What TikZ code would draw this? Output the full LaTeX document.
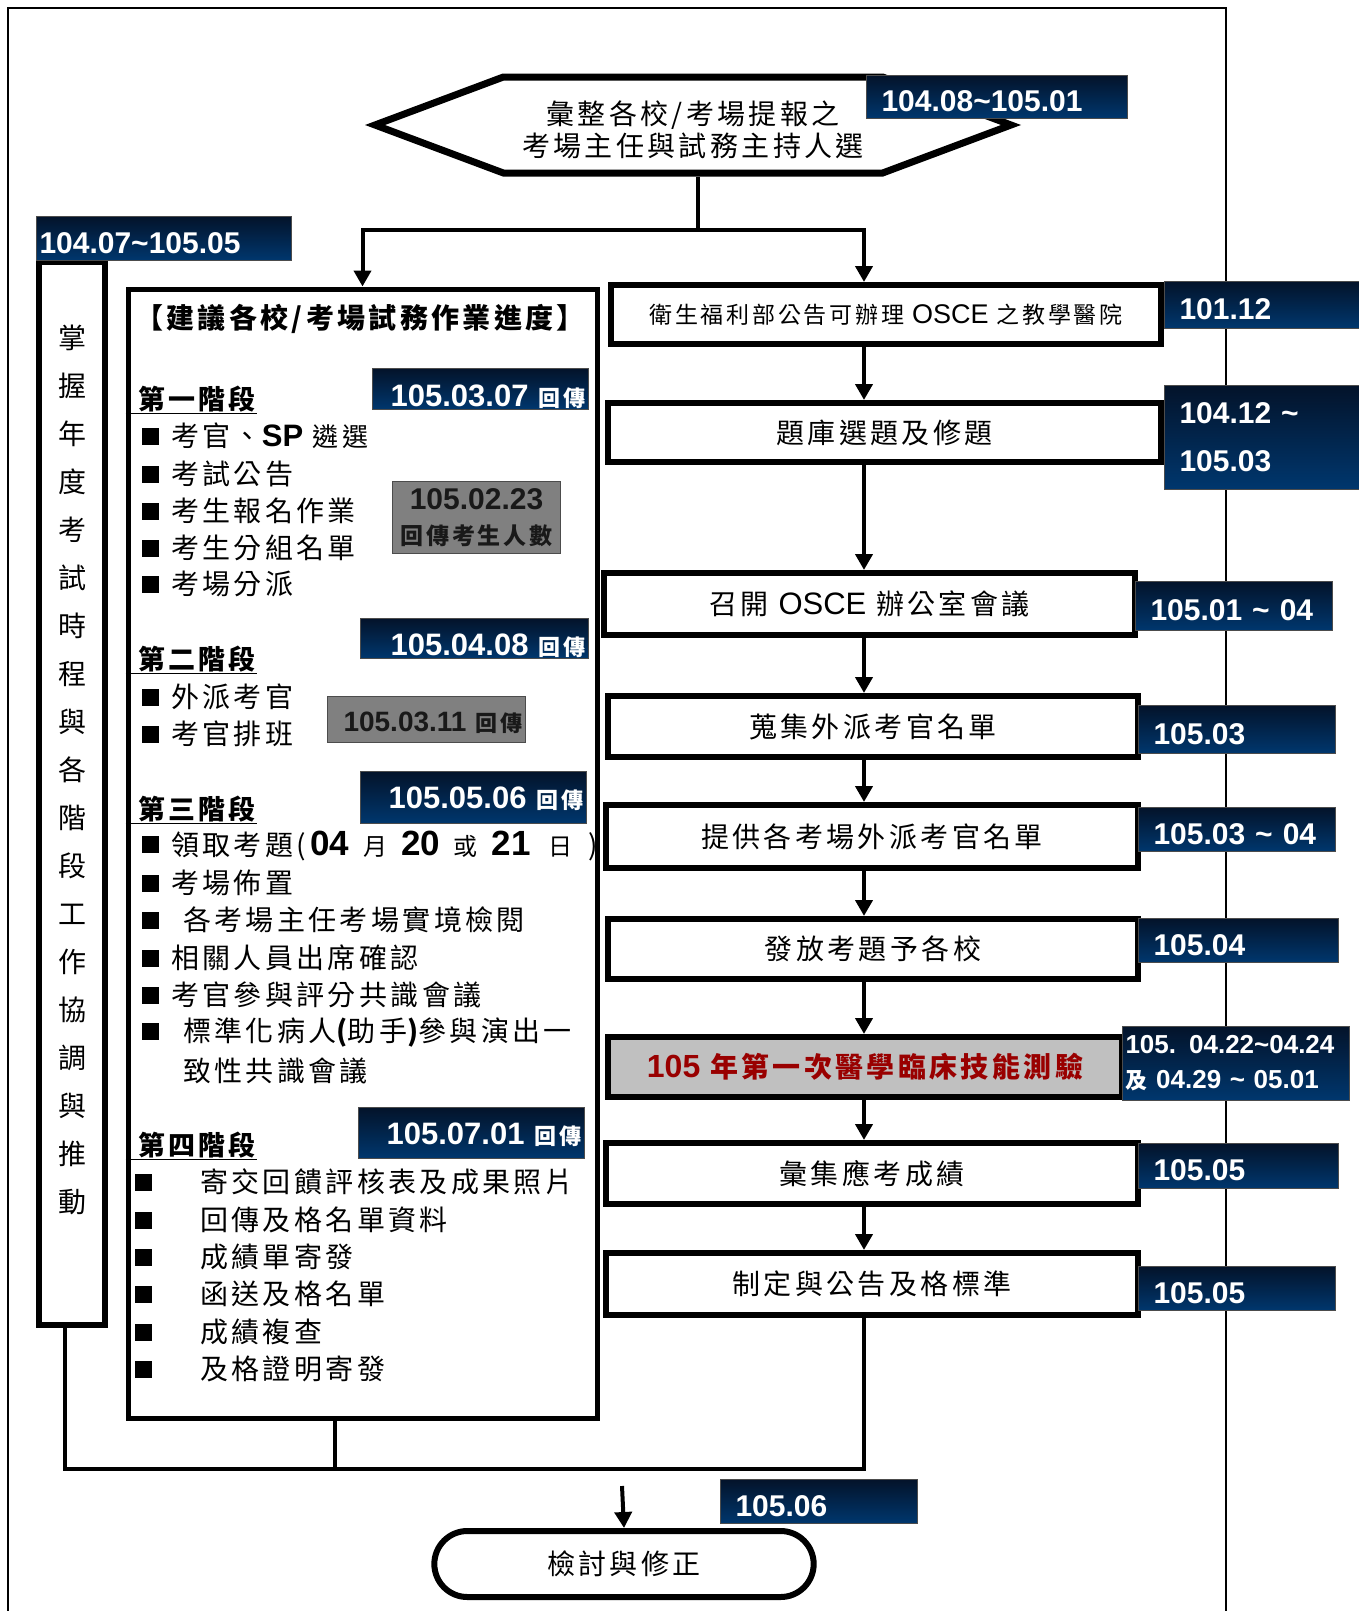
\documentclass[tikz,border=0pt]{standalone}
\usepackage{fontspec}
\setmainfont{Noto Sans CJK TC}[LetterSpace=12]
\newfontfamily\numfont{Liberation Sans}
\usepackage{xcolor}
\definecolor{navyTop}{HTML}{03132A}
\definecolor{navyBot}{HTML}{00376E}
\definecolor{boxGray}{HTML}{808080}
\definecolor{examGray}{HTML}{C0C0C0}
\definecolor{examRed}{HTML}{990000}
\usepackage{tikz}
\usetikzlibrary{arrows.meta, positioning, shapes.symbols, shapes.misc}
\newcommand{\fsz}[1]{\fontsize{#1}{#1}\selectfont}
\newcommand{\sq}{\raisebox{2pt}{\rule{17pt}{17pt}}}
\newcommand{\rtn}{{\rmfamily\bfseries\fsz{22}回傳}}
\newcommand{\nb}[1]{{\numfont\bfseries\fsz{35}#1}}
\tikzset{
  flowbox/.style={draw, line width=6pt, fill=white, inner sep=0pt, font=\fsz{28}},
  datebox/.style={anchor=north west, top color=navyTop, bottom color=navyBot, draw=black!70, line width=1pt, inner xsep=15pt, inner ysep=0pt, text height=29pt, text depth=0pt, text=white, align=left, font=\numfont\bfseries\fsz{30}},
  twoline/.style={text height={}, text depth={}},
  stagedate/.style={datebox, align=right, inner xsep=3pt, text height=34pt, font=\numfont\bfseries\fsz{31}},
  graybox/.style={anchor=north west, fill=boxGray, draw=black!70, line width=1pt, inner sep=0pt, text=black!90, font=\numfont\bfseries\fsz{26}},
  item/.style={anchor=west, inner sep=0pt, font=\fsz{28}},
  stagehd/.style={anchor=west, inner sep=1pt, font=\bfseries\fsz{27}},
  conn/.style={line width=4pt}
}

\begin{document}
\begin{tikzpicture}[x=1pt, y=-1pt, >={Triangle[length=16pt,width=17pt]}]
\useasboundingbox (0,0) rectangle (1359,1611);
\draw[line width=2pt] (8,1611) -- (8,8) -- (1226,8) -- (1226,1611);

\node[draw, shape=signal, signal to=west and east, signal pointer angle=41, minimum width=636pt, minimum height=96pt, line width=7pt, fill=white, inner sep=0pt, align=center, font=\fontsize{28}{32}\selectfont] (hex) at (693,125) {\rule{0pt}{33pt}彙整各校/考場提報之\\考場主任與試務主持人選};

\node[draw, line width=6pt, fill=white, minimum width=66pt, minimum height=1063pt] (side) at (72,793.5) {};
\node[inner sep=0pt, align=center, font=\fontsize{28}{48}\selectfont] (sidetxt) at (72,769.5) {掌\\握\\年\\度\\考\\試\\時\\程\\與\\各\\階\\段\\工\\作\\協\\調\\與\\推\\動};

\node[draw, line width=5pt, fill=white, minimum width=469pt, minimum height=1129pt] (prog) at (362.5,853.5) {};
\node[inner sep=0pt, font=\bfseries\fsz{28}] (ttl) at (360,319) {【建議各校/考場試務作業進度】};

\node[stagehd] (h1) at (137,399) {第一階段};
\draw[line width=1.5pt] (h1.south west -| prog.west) -- (h1.south east);
\node[item] (i11) at (142,436) {\sq\hspace{12pt}考官、{\numfont\bfseries\fsz{31}SP} {\fsz{26}遴選}};
\node[item] (i12) at (142,474) {\sq\hspace{12pt}考試公告};
\node[item] (i13) at (142,511) {\sq\hspace{12pt}考生報名作業};
\node[item] (i14) at (142,548) {\sq\hspace{12pt}考生分組名單};
\node[item] (i15) at (142,584) {\sq\hspace{12pt}考場分派};

\node[stagehd] (h2) at (137,659) {第二階段};
\draw[line width=1.5pt] (h2.south west -| prog.west) -- (h2.south east);
\node[item] (i21) at (142,697) {\sq\hspace{12pt}外派考官};
\node[item] (i22) at (142,734) {\sq\hspace{12pt}考官排班};

\node[stagehd] (h3) at (137,809) {第三階段};
\draw[line width=1.5pt] (h3.south west -| prog.west) -- (h3.south east);
\node[item] (i31) at (142,846) {\sq\hspace{12pt}領取考題(\hspace{4pt}\nb{04}\hspace{14pt}{\fsz{24}月}\hspace{14pt}\nb{20}\hspace{14pt}{\fsz{24}或}\hspace{14pt}\nb{21}\hspace{18pt}{\fsz{24}日}\hspace{16pt})};
\node[item] (i32) at (142,883) {\sq\hspace{12pt}考場佈置};
\node[item] (i33) at (142,920) {\sq\hspace{24pt}各考場主任考場實境檢閱};
\node[item] (i34) at (142,958) {\sq\hspace{12pt}相關人員出席確認};
\node[item] (i35) at (142,995) {\sq\hspace{12pt}考官參與評分共識會議};
\node[item] (i36) at (142,1033) {\sq\hspace{24pt}標準化病人{\bfseries(}助手{\bfseries)}參與演出一};
\node[item] (i37) at (183,1071) {致性共識會議};

\node[stagehd] (h4) at (137,1145) {第四階段};
\draw[line width=1.5pt] (h4.south west -| prog.west) -- (h4.south east);
\node[item] (i41) at (135,1182) {\sq\hspace{48pt}寄交回饋評核表及成果照片};
\node[item] (i42) at (135,1220) {\sq\hspace{48pt}回傳及格名單資料};
\node[item] (i43) at (135,1257) {\sq\hspace{48pt}成績單寄發};
\node[item] (i44) at (135,1294) {\sq\hspace{48pt}函送及格名單};
\node[item] (i45) at (135,1332) {\sq\hspace{48pt}成績複查};
\node[item] (i46) at (135,1369) {\sq\hspace{48pt}及格證明寄發};

\node[flowbox, minimum width=550pt, minimum height=59pt, font=\fsz{23}] (b1) at (886,314.5) {衛生福利部公告可辦理 {\numfont\fsz{27}OSCE} 之教學醫院};
\node[flowbox, minimum width=553pt, minimum height=59pt] (b2) at (884.5,432.5) {題庫選題及修題};
\node[flowbox, minimum width=531pt, minimum height=62pt] (b3) at (869.5,604) {召開 {\numfont\fsz{31}OSCE} 辦公室會議};
\node[flowbox, minimum width=530pt, minimum height=61pt] (b4) at (873,726.5) {蒐集外派考官名單};
\node[flowbox, minimum width=532pt, minimum height=63pt] (b5) at (872,836.5) {提供各考場外派考官名單};
\node[flowbox, minimum width=530pt, minimum height=60pt] (b6) at (873,949) {發放考題予各校};
\node[flowbox, minimum width=514pt, minimum height=60pt, fill=examGray, text=examRed, font=\bfseries\fsz{28}] (b7) at (865,1067) {{\numfont\fsz{32}105} 年第一次醫學臨床技能測驗};
\node[flowbox, minimum width=532pt, minimum height=61pt] (b8) at (872,1173.5) {彙集應考成績};
\node[flowbox, minimum width=532pt, minimum height=62pt] (b9) at (872,1284) {制定與公告及格標準};

\node[draw, rounded rectangle, line width=6pt, fill=white, minimum width=386pt, minimum height=66pt, font=\fsz{28}] (rev) at (624,1564) {檢討與修正};

\coordinate (spine) at (864,0);
\coordinate (fork) at (698,230);
\coordinate (join) at (864,1469);
\coordinate (sjoin) at (65,1469);
\coordinate (pjoin) at (335,1469);
\coordinate (revin) at (622,1486);
\draw[conn] (fork |- hex.south) -- (fork);
\draw[conn,->] (fork) -| (prog.north);
\draw[conn,->] (fork) -| (b1.north -| spine);
\draw[conn,->] (b1.south -| spine) -- (b2.north -| spine);
\draw[conn,->] (b2.south -| spine) -- (b3.north -| spine);
\draw[conn,->] (b3.south -| spine) -- (b4.north -| spine);
\draw[conn,->] (b4.south -| spine) -- (b5.north -| spine);
\draw[conn,->] (b5.south -| spine) -- (b6.north -| spine);
\draw[conn,->] (b6.south -| spine) -- (b7.north -| spine);
\draw[conn,->] (b7.south -| spine) -- (b8.north -| spine);
\draw[conn,->] (b8.south -| spine) -- (b9.north -| spine);
\draw[conn] (b9.south -| spine) -- (join) -- (sjoin) -- (sjoin |- side.south);
\draw[conn] (pjoin |- prog.south) -- (pjoin);
\draw[conn,->] (revin) -- (rev.north);

\node[datebox, text width=231pt, minimum height=43pt] (dhex) at (866,75) {104.08\textasciitilde105.01};
\node[datebox, inner xsep=3pt, text width=249pt, minimum height=44pt] (dside) at (36,216) {104.07\textasciitilde105.05};
\node[datebox, text width=165pt, minimum height=47pt] (d1) at (1164,281) {101.12};
\node[datebox, twoline, text width=165pt, minimum height=104pt, font=\numfont\bfseries\fontsize{30}{48}\selectfont] (d2) at (1164,385) {104.12 \textasciitilde\\105.03};
\node[datebox, text width=167pt, minimum height=49pt] (d3) at (1135,581) {105.01 \textasciitilde{} 04};
\node[datebox, text width=167pt, minimum height=48pt] (d4) at (1138,705) {105.03};
\node[datebox, text width=167pt, minimum height=44pt] (d5) at (1138,807) {105.03 \textasciitilde{} 04};
\node[datebox, text width=170pt, minimum height=44pt] (d6) at (1138,918) {105.04};
\node[datebox, twoline, inner xsep=3pt, text width=221pt, minimum height=74pt, font=\numfont\bfseries\fontsize{26}{35}\selectfont] (d7) at (1122,1026) {105. 04.22\textasciitilde04.24\\{\rmfamily\fsz{22}及} 04.29 \textasciitilde{} 05.01};
\node[datebox, text width=170pt, minimum height=45pt] (d8) at (1138,1143) {105.05};
\node[datebox, text width=167pt, minimum height=44pt] (d9) at (1138,1266) {105.05};
\node[datebox, text width=167pt, minimum height=44pt] (d10) at (720,1479) {105.06};

\node[stagedate, text width=210pt, minimum height=41pt] (ds1) at (372,368) {105.03.07 \rtn};
\node[stagedate, text width=222pt, minimum height=40pt] (ds2) at (360,618) {105.04.08 \rtn};
\node[stagedate, text height=22pt, text width=220pt, minimum height=52pt] (ds3) at (360,771) {105.05.06 \rtn};
\node[stagedate, text height=22pt, text width=220pt, minimum height=51pt] (ds4) at (358,1107) {105.07.01 \rtn};

\node[graybox, minimum width=168pt, minimum height=72pt, align=center, font=\numfont\bfseries\fontsize{30}{35}\selectfont] (g1) at (392,481) {105.02.23\\{\rmfamily\bfseries\fsz{23}回傳考生人數}};
\node[graybox, inner xsep=3pt, text width=192pt, minimum height=46pt, align=right, text height=24pt, text depth=0pt, font=\numfont\bfseries\fsz{28}] (g2) at (327,696) {105.03.11 \rtn};
\end{tikzpicture}
\end{document}
